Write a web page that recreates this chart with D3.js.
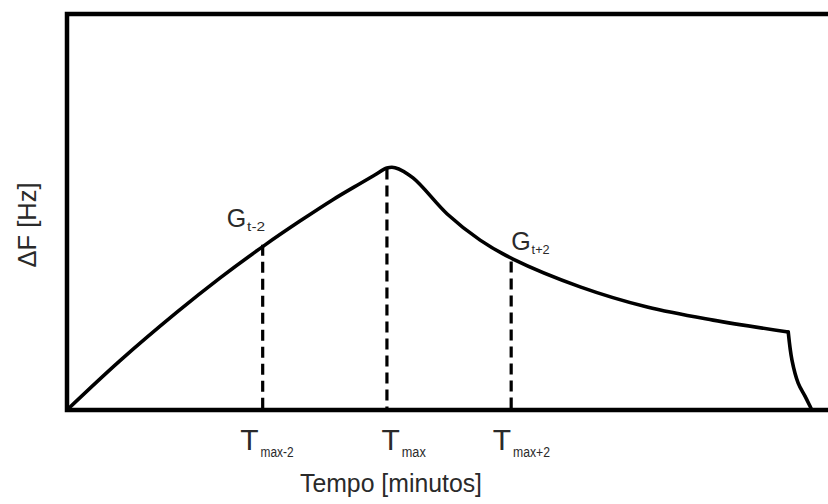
<!DOCTYPE html>
<html>
<head>
<meta charset="utf-8">
<script src="https://cdn.jsdelivr.net/npm/d3@7/dist/d3.min.js"></script>
<style>
  html, body { margin: 0; padding: 0; background: #fff; }
  svg text { font-family: "Liberation Sans Narrow", "Liberation Sans", Arial, sans-serif; fill: #2a2a2a; }
</style>
</head>
<body>
<svg id="chart" width="828" height="504"></svg>
<script>
// Frequency shift ΔF over time: rise to a maximum, decay, then final drop.
const curveTime  = [0, 0.85, 1.77, 2.46, 3.19, 3.75, 4.28, 4.72, 4.96, 5.15, 5.28, 5.57, 6.12, 6.65, 7.18, 8.26, 9.34, 10.40, 11.61];
const curveShift = [0, 12.4, 24.7, 33.3, 41.7, 47.7, 53.1, 57.2, 59.4, 61.1, 61.2, 58.6, 49.5, 42.9, 38.1, 31.1, 26.0, 22.7, 19.7];
const tailTime   = [11.61, 11.67, 11.77, 11.88, 11.99];
const tailShift  = [19.7, 12.6, 6.8, 3.5, 0];

// Marked instants on the time axis and where each meets the curve
const markTime  = [3.15, 5.15, 7.15];
const markShift = [41.7, 61.0, 37.5];
const markSub   = ["max-2", "max", "max+2"];

// Gradient labels near the marked points
const gradSub  = ["t-2", "t+2"];
const gradTime = [3.15, 7.15];

const xLabel = "Tempo [minutos]";
const yLabel = "ΔF [Hz]";

const svg = d3.select("#chart");
const x = d3.scaleLinear().domain([0, 12.25]).range([67, 828]);
const y = d3.scaleLinear().domain([0, 100]).range([410, 14]);

// Frame: left axis, bottom axis, top border
svg.append("path")
  .attr("d", `M${x(12.25)},${y(100)} L${x(0)},${y(100)} L${x(0)},${y(0)} L${x(12.25)},${y(0)}`)
  .attr("fill", "none").attr("stroke", "#000").attr("stroke-width", 4.5)
  .attr("stroke-linejoin", "miter");

// Dashed drop lines from the curve to the time axis
svg.selectAll("line.mark").data(markTime).join("line")
  .attr("class", "mark")
  .attr("x1", d => x(d)).attr("x2", d => x(d))
  .attr("y1", (d, i) => y(markShift[i])).attr("y2", y(0))
  .attr("stroke", "#000").attr("stroke-width", 3.2)
  .attr("stroke-dasharray", "11,6");

// Response curve
const line = d3.line().x(d => x(d[0])).y(d => y(d[1])).curve(d3.curveCatmullRom.alpha(0.5));
svg.append("path")
  .datum(curveTime.map((t, i) => [t, curveShift[i]]))
  .attr("d", line)
  .attr("fill", "none").attr("stroke", "#000").attr("stroke-width", 3.6)
  .attr("stroke-linecap", "round");
svg.append("path")
  .datum(tailTime.map((t, i) => [t, tailShift[i]]))
  .attr("d", line)
  .attr("fill", "none").attr("stroke", "#000").attr("stroke-width", 3.6)
  .attr("stroke-linecap", "round");

// Time-axis labels T with subscripts
const axis = d3.axisBottom(x).tickValues(markTime).tickSize(0).tickFormat("");
const ax = svg.append("g").attr("transform", `translate(0,${y(0)})`).call(axis);
ax.select(".domain").remove();
const tOffset = [-23, -6, -19];
const subLen = [33, 24, 37];
ax.selectAll(".tick text").each(function (d, i) {
  const t = d3.select(this)
    .attr("text-anchor", "start").attr("fill", null).attr("font-size", null)
    .attr("font-family", null)
    .attr("x", tOffset[i]).attr("y", 40).attr("dy", null);
  t.append("tspan").attr("font-size", 30).text("T");
  t.append("tspan").attr("font-size", 14).attr("dx", 2).attr("dy", 7)
    .attr("textLength", subLen[i]).attr("lengthAdjust", "spacingAndGlyphs")
    .text(markSub[i]);
});

// Gradient labels G
const gOffset = [[-36, -18], [0, -12]];
gradTime.forEach((t, i) => {
  const yi = y(markShift[i === 0 ? 0 : 2]);
  const txt = svg.append("text")
    .attr("x", x(t) + gOffset[i][0]).attr("y", yi + gOffset[i][1]);
  txt.append("tspan").attr("font-size", 25).text("G");
  txt.append("tspan").attr("font-size", 12).attr("dx", 1).attr("dy", 4)
    .attr("textLength", 18).attr("lengthAdjust", "spacingAndGlyphs")
    .text(gradSub[i]);
});

// Axis titles
svg.append("text")
  .attr("x", 391).attr("y", 492).attr("text-anchor", "middle")
  .attr("font-size", 26)
  .attr("textLength", 182).attr("lengthAdjust", "spacingAndGlyphs")
  .text(xLabel);

svg.append("text")
  .attr("transform", "translate(36,225) rotate(-90)")
  .attr("text-anchor", "middle")
  .attr("font-size", 26)
  .attr("textLength", 85).attr("lengthAdjust", "spacingAndGlyphs")
  .text(yLabel);
</script>
</body>
</html>
